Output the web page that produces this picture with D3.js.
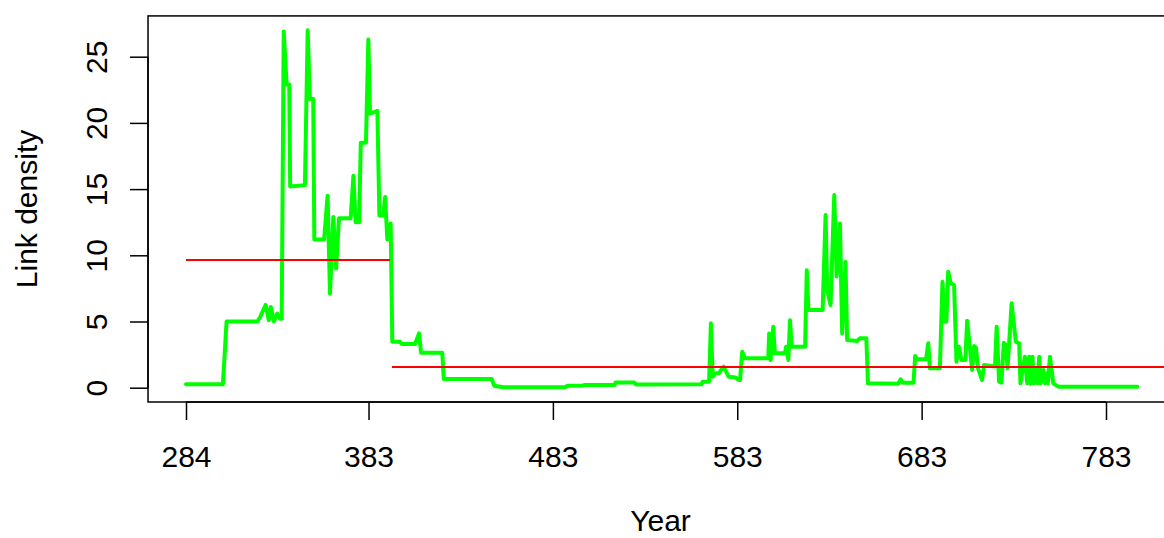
<!DOCTYPE html>
<html>
<head>
<meta charset="utf-8">
<script src="https://cdn.jsdelivr.net/npm/d3@7"></script>
<style>
  html, body { margin: 0; padding: 0; background: #fff; }
  svg { display: block; font-family: "Liberation Sans", Arial, sans-serif; }
</style>
</head>
<body>
<svg id="chart" width="1164" height="538"></svg>
<script>
// Link density by year (breakpoints of the series)
const years = [
  284, 304, 306, 322.7, 324.1, 327.2, 328.9, 330, 331.7, 333.5, 335, 335.9,
  337, 338.6, 340, 340.5, 348.5, 350, 351.2, 353, 353.6, 358.9, 360.8, 362.1,
  363.9, 365.4, 367, 373.3, 374.8, 376, 377.9, 378.8, 381.6, 382.9, 383.8,
  387.8, 388.9, 391, 392, 393.2, 395, 395.9, 400, 401, 408.2, 410.4, 411.5,
  423, 423.8, 449.8, 451.2, 456, 489.6, 491, 499, 500, 516.5, 517, 527, 528,
  563.7, 564.2, 567.7, 568.7, 569.7, 571, 573, 575.6, 578.3, 581.9, 583.9,
  584.5, 585.7, 587.2, 599.8, 600.3, 601.1, 602.5, 603.4, 608.9, 609.5, 610.7,
  611.6, 612.5, 619.8, 620.7, 621.6, 629.3, 630.9, 631.8, 633.6, 635.6, 636.9,
  638.7, 639.9, 641.7, 642.6, 648.1, 649.5, 653, 653.9, 670.3, 671.6, 672.8,
  678.6, 679.5, 680.5, 685.4, 686.6, 687.5, 692.9, 694.3, 695.6, 696.4, 697.4,
  698.8, 700.6, 701.9, 703.2, 704.6, 706.7, 707.7, 709.1, 710.4, 711.5, 712.4,
  713.6, 715.8, 716.9, 722.8, 723.7, 725, 726.3, 727.6, 728.7, 729.6, 731.8,
  734.1, 735.9, 736.6, 739, 740.3, 741.3, 742.1, 743.1, 744, 745, 745.8, 746.8,
  747.5, 749, 749.8, 750.7, 751.4, 752.6, 754.4, 757.1, 800
];
const density = [
  0.26, 0.26, 5.0, 5.0, 5.3, 6.25, 5.1, 6.1, 5.0, 5.6, 5.2, 5.2,
  26.9, 22.9, 22.9, 15.2, 15.3, 27.0, 21.8, 21.8, 11.2, 11.2, 14.5, 7.1,
  12.9, 9.0, 12.8, 12.8, 16.0, 12.5, 12.5, 18.5, 18.5, 26.3, 20.7,
  20.9, 13.0, 13.0, 14.4, 11.2, 12.4, 3.47, 3.47, 3.3, 3.3, 4.1, 2.64,
  2.64, 0.66, 0.66, 0.15, 0.03, 0.03, 0.15, 0.15, 0.2, 0.2, 0.4, 0.4, 0.25,
  0.26, 0.45, 0.45, 4.86, 0.83, 1.09, 1.09, 1.59, 0.83, 0.78, 0.58,
  0.58, 2.72, 2.22, 2.22, 4.1, 2.09, 4.6, 2.6, 2.6, 3.1, 2.09,
  5.1, 3.1, 3.1, 8.87, 5.87, 5.87, 13.04, 7.38, 6.25, 14.55, 8.4,
  12.4, 4.1, 9.5, 3.6, 3.53, 3.73, 3.73, 0.33, 0.3, 0.63, 0.38,
  0.38, 2.39, 2.14, 2.14, 3.35, 1.46, 1.46, 8.0, 4.98, 4.98, 8.76,
  7.88, 7.76, 1.96, 3.1, 2.09, 2.09, 5.06, 3.1, 1.34, 3.15, 3.05,
  1.46, 0.58, 1.71, 1.6, 4.6, 0.45, 0.38, 3.4, 3.22, 1.46, 6.37,
  3.47, 3.35, 0.33, 2.34, 0.33, 2.34, 0.3, 2.34, 0.33, 1.34, 0.33, 2.34,
  0.33, 1.34, 0.33, 1.09, 0.33, 2.34, 0.33, 0.08, 0.08
];

// Period means shown as horizontal reference segments
const meanStart = [284, 395.7];
const meanEnd   = [394.6, 822];
const meanValue = [9.65, 1.56];

const xTicks = [284, 383, 483, 583, 683, 783];
const yTicks = [0, 5, 10, 15, 20, 25];

const svg = d3.select("#chart");
const x = d3.scaleLinear().domain([284, 783]).range([186, 1106]);
const y = d3.scaleLinear().domain([0, 25]).range([387.7, 56.7]);

const xlim = [263.4, 820.6];
const ylim = [-1.08, 28.08];

// Plot frame
svg.append("rect")
  .attr("x", x(xlim[0])).attr("y", y(ylim[1]))
  .attr("width", x(xlim[1]) - x(xlim[0]))
  .attr("height", y(ylim[0]) - y(ylim[1]))
  .attr("fill", "none").attr("stroke", "#000").attr("stroke-width", 1.5);

const plot = svg.append("g");
plot.append("clipPath").attr("id", "clip").append("rect")
  .attr("x", x(xlim[0])).attr("y", y(ylim[1]))
  .attr("width", x(xlim[1]) - x(xlim[0]))
  .attr("height", y(ylim[0]) - y(ylim[1]));

// Series line
const pts = years.map((yr, i) => [yr, density[i]]);
plot.append("path")
  .datum(pts)
  .attr("fill", "none")
  .attr("stroke", "#00ff00")
  .attr("stroke-width", 4)
  .attr("stroke-linejoin", "round")
  .attr("stroke-linecap", "round")
  .attr("d", d3.line().x(d => x(d[0])).y(d => y(d[1])));

// Mean segments
plot.selectAll("line.mean")
  .data(meanValue)
  .join("line")
  .attr("class", "mean")
  .attr("clip-path", "url(#clip)")
  .attr("x1", (d, i) => x(meanStart[i]))
  .attr("x2", (d, i) => x(meanEnd[i]))
  .attr("y1", d => y(d)).attr("y2", d => y(d))
  .attr("stroke", "#ff0000").attr("stroke-width", 2);

// X axis
const xAxis = svg.append("g")
  .attr("transform", `translate(0,${y(ylim[0])})`)
  .call(d3.axisBottom(x).tickValues(xTicks).tickSize(18).tickPadding(0).tickFormat(d3.format("d")));
xAxis.select(".domain")
  .attr("d", `M${x(284)},0H${x(783)}`)
  .attr("stroke-width", 1.5);
xAxis.selectAll(".tick line").attr("stroke-width", 1.5);
xAxis.selectAll(".tick text")
  .attr("y", 64.7).attr("dy", null)
  .attr("font-size", 30).attr("font-family", "Liberation Sans, Arial, sans-serif")
  .attr("fill", "#000");

// Y axis
const yAxis = svg.append("g")
  .attr("transform", `translate(${x(xlim[0])},0)`)
  .call(d3.axisLeft(y).tickValues(yTicks).tickSize(18).tickPadding(0));
yAxis.select(".domain")
  .attr("d", `M0,${y(0)}V${y(25)}`)
  .attr("stroke-width", 1.5);
yAxis.selectAll(".tick line").attr("stroke-width", 1.5);
yAxis.selectAll(".tick text")
  .attr("x", null).attr("dy", null)
  .attr("text-anchor", "middle")
  .attr("transform", "translate(-41.3,0) rotate(-90)")
  .attr("font-size", 30).attr("font-family", "Liberation Sans, Arial, sans-serif")
  .attr("fill", "#000");

// Axis titles
svg.append("text")
  .attr("x", (x(xlim[0]) + 1173) / 2).attr("y", 531)
  .attr("text-anchor", "middle").attr("font-size", 30)
  .text("Year");
svg.append("text")
  .attr("transform", `translate(37,${(y(ylim[0]) + y(ylim[1])) / 2}) rotate(-90)`)
  .attr("text-anchor", "middle").attr("font-size", 30)
  .text("Link density");
</script>
</body>
</html>
